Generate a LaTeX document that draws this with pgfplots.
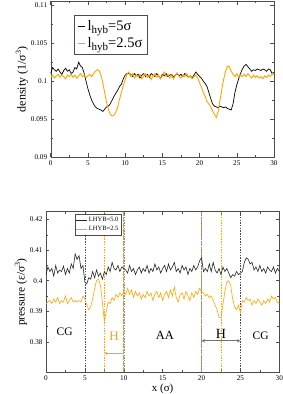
\documentclass[border=0pt]{standalone}
\usepackage{pgfplots}
\pgfplotsset{compat=1.18}
\usepackage{fontspec}
\setmainfont{Liberation Serif}
\usetikzlibrary{arrows.meta}
\definecolor{myorange}{RGB}{255,165,0}
\begin{document}
\begin{tikzpicture}
\path[use as bounding box] (0,0) rectangle (283pt,394pt);
\pgfplotsset{every axis/.append style={
  scale only axis, anchor=south west,
  /pgf/number format/assume math mode=true,
  tick label style={font=\fontsize{7.2}{8}\selectfont},
  xmin=0, xmax=30, xtick={0,5,...,30},
  minor x tick num=1, minor y tick num=1,
  tick align=inside, major tick length=3.5pt, minor tick length=2pt,
  tick style={black!70, line width=0.5pt},
  yticklabel style={/pgf/number format/.cd,fixed,precision=3},
  axis line style={black!70},
}}
\begin{axis}[at={(50.7pt,237pt)}, width=223.3pt, height=155.5pt,
  ymin=0.09, ymax=0.1105, ytick={0.09,0.095,0.1,0.105,0.11},
  yticklabels={0.09,0.095,0.1,0.105,0.11},
  ylabel={density (1/σ\textsuperscript{3})},
  ylabel style={font=\fontsize{12}{14}\selectfont, yshift=-4pt},
  legend style={at={(0.104,0.91)}, anchor=north west, font=\fontsize{14.5}{15}\selectfont,
    draw=black!70, inner sep=3pt, row sep=1pt},
  legend cell align=left,
  legend image post style={xscale=0.45},
]
\addplot[black, line width=0.7pt] coordinates {
(0,0.1010)(0.25,0.1018)(0.5,0.1015)(0.75,0.1013)(1,0.1016)(1.25,0.1012)(1.5,0.1009)(1.75,0.1014)(2,0.1017)(2.25,0.1013)(2.5,0.1015)(2.75,0.1010)(3,0.1012)(3.25,0.1018)(3.5,0.1016)(3.75,0.1025)(4,0.1020)(4.25,0.1018)(4.5,0.1010)(4.75,0.1000)(5,0.0990)(5.25,0.0982)(5.5,0.0975)(5.75,0.0970)(6,0.0966)(6.25,0.0964)(6.5,0.0963)(6.75,0.0962)(7,0.0960)(7.25,0.0963)(7.5,0.0966)(7.75,0.0967)(8,0.0970)(8.25,0.0975)(8.5,0.0980)(8.75,0.0984)(9,0.0988)(9.25,0.0993)(9.5,0.0996)(9.75,0.1003)(10,0.1008)(10.25,0.1010)(10.5,0.1010)(10.75,0.1009)(11,0.1006)(11.25,0.1010)(11.5,0.1007)(11.75,0.1009)(12,0.1004)(12.25,0.1008)(12.5,0.1010)(12.75,0.1006)(13,0.1009)(13.25,0.1005)(13.5,0.1010)(13.75,0.1008)(14,0.1006)(14.25,0.1010)(14.5,0.1007)(14.75,0.1004)(15,0.1009)(15.25,0.1007)(15.5,0.1010)(15.75,0.1006)(16,0.1008)(16.25,0.1009)(16.5,0.1005)(16.75,0.1008)(17,0.1010)(17.25,0.1007)(17.5,0.1009)(17.75,0.1006)(18,0.1010)(18.25,0.1008)(18.5,0.1005)(18.75,0.1007)(19,0.1004)(19.25,0.1008)(19.5,0.1012)(19.75,0.1009)(20,0.1006)(20.25,0.1004)(20.5,0.1000)(20.75,0.0997)(21,0.0993)(21.25,0.0985)(21.5,0.0977)(21.75,0.0970)(22,0.0967)(22.25,0.0966)(22.5,0.0965)(22.75,0.0967)(23,0.0966)(23.25,0.0965)(23.5,0.0966)(23.75,0.0964)(24,0.0963)(24.25,0.0962)(24.5,0.0970)(24.75,0.0985)(25,0.0995)(25.25,0.1003)(25.5,0.1010)(25.75,0.1016)(26,0.1020)(26.25,0.1022)(26.5,0.1019)(26.75,0.1016)(27,0.1013)(27.25,0.1015)(27.5,0.1014)(27.75,0.1016)(28,0.1015)(28.25,0.1014)(28.5,0.1016)(28.75,0.1015)(29,0.1013)(29.25,0.1016)(29.5,0.1015)(29.75,0.1010)(30,0.1012)};
\addlegendentry{l{\fontsize{11}{12}\selectfont\raisebox{-3pt}{hyb}}=5σ}
\addplot[myorange, line width=0.9pt] coordinates {
(0,0.1005)(0.25,0.1008)(0.5,0.1004)(0.75,0.1007)(1,0.1009)(1.25,0.1005)(1.5,0.1008)(1.75,0.1006)(2,0.1003)(2.25,0.1008)(2.5,0.1006)(2.75,0.1009)(3,0.1005)(3.25,0.1008)(3.5,0.1004)(3.75,0.1007)(4,0.1010)(4.25,0.1006)(4.5,0.1008)(4.75,0.1005)(5,0.1007)(5.25,0.1009)(5.5,0.1006)(5.75,0.1010)(6,0.1013)(6.25,0.1015)(6.5,0.1014)(6.75,0.1008)(7,0.0998)(7.25,0.0985)(7.5,0.0972)(7.75,0.0963)(8,0.0956)(8.25,0.0954)(8.5,0.0955)(8.75,0.0959)(9,0.0966)(9.25,0.0976)(9.5,0.0985)(9.75,0.0994)(10,0.1002)(10.25,0.1009)(10.5,0.1012)(10.75,0.1006)(11,0.1010)(11.25,0.1004)(11.5,0.1008)(11.75,0.1006)(12,0.1009)(12.25,0.1003)(12.5,0.1007)(12.75,0.1010)(13,0.1005)(13.25,0.1008)(13.5,0.1002)(13.75,0.1007)(14,0.1010)(14.25,0.1005)(14.5,0.1008)(14.75,0.1003)(15,0.1007)(15.25,0.1012)(15.5,0.1006)(15.75,0.1009)(16,0.1004)(16.25,0.1008)(16.5,0.1003)(16.75,0.1008)(17,0.1011)(17.25,0.1006)(17.5,0.1004)(17.75,0.1008)(18,0.1006)(18.25,0.1010)(18.5,0.1005)(18.75,0.1007)(19,0.1003)(19.25,0.1006)(19.5,0.1008)(19.75,0.1004)(20,0.0998)(20.25,0.0992)(20.5,0.0985)(20.75,0.0980)(21,0.0973)(21.25,0.0970)(21.5,0.0966)(21.75,0.0961)(22,0.0956)(22.25,0.0952)(22.5,0.0960)(22.75,0.0975)(23,0.0990)(23.25,0.1003)(23.5,0.1013)(23.75,0.1020)(24,0.1019)(24.25,0.1013)(24.5,0.1009)(24.75,0.1006)(25,0.1010)(25.25,0.1005)(25.5,0.1008)(25.75,0.1006)(26,0.1009)(26.25,0.1006)(26.5,0.1010)(26.75,0.1007)(27,0.1004)(27.25,0.1008)(27.5,0.1005)(27.75,0.1007)(28,0.1004)(28.25,0.1006)(28.5,0.1003)(28.75,0.1007)(29,0.1005)(29.25,0.1008)(29.5,0.1006)(29.75,0.1010)(30,0.1008)};
\addlegendentry{l{\fontsize{11}{12}\selectfont\raisebox{-3pt}{hyb}}=2.5σ}
\end{axis}

\begin{axis}[at={(46pt,21.7pt)}, width=233.3pt, height=160.6pt,
  ymin=0.37, ymax=0.4226, ytick={0.38,0.39,0.40,0.41,0.42},
  yticklabels={0.38,0.39,0.4,0.41,0.42},
  xlabel={x (σ)}, xlabel style={font=\fontsize{11}{12}\selectfont, yshift=4pt},
  ylabel={pressure (ε/σ\textsuperscript{3})},
  ylabel style={font=\fontsize{11.5}{13}\selectfont, yshift=-4pt},
  legend style={at={(0.124,0.985)}, anchor=north west, font=\fontsize{6.5}{7}\selectfont,
    draw=black!70, inner sep=1pt, row sep=-1pt},
  legend cell align=left,
  legend image post style={xscale=0.6},
]
% vertical region lines
\draw[black!70, line width=0.35pt, dash pattern=on 1.5pt off 1.2pt] (5,0.37) -- (5,0.4226);
\draw[black!70, line width=0.35pt, dash pattern=on 1.5pt off 1.2pt] (25,0.37) -- (25,0.4226);
\draw[myorange, line width=0.5pt, dash pattern=on 1.5pt off 1.2pt] (7.5,0.37) -- (7.5,0.4226);
\draw[myorange, line width=0.5pt, dash pattern=on 1.5pt off 1.2pt] (22.5,0.37) -- (22.5,0.4226);
\draw[myorange!80!black!80, line width=1.3pt, dash pattern=on 5pt off 1pt] (10,0.37) -- (10,0.4226);
\draw[black!45, line width=0.4pt, dash pattern=on 1.5pt off 1.2pt] (10,0.37) -- (10,0.4226);
\draw[myorange!80!black!80, line width=1.3pt, dash pattern=on 5pt off 1pt] (20,0.37) -- (20,0.4226);
\draw[black!45, line width=0.4pt, dash pattern=on 1.5pt off 1.2pt] (20,0.37) -- (20,0.4226);
\addplot[black!85, line width=0.6pt] coordinates {
(0,0.4020)(0.25,0.4045)(0.5,0.4030)(0.75,0.4040)(1,0.4015)(1.25,0.4050)(1.5,0.4025)(1.75,0.4035)(2,0.4030)(2.25,0.4048)(2.5,0.4020)(2.75,0.4040)(3,0.4025)(3.25,0.4055)(3.5,0.4040)(3.75,0.4088)(4,0.4070)(4.25,0.4082)(4.5,0.4040)(4.75,0.4050)(5,0.3995)(5.25,0.3990)(5.5,0.4010)(5.75,0.4005)(6,0.4030)(6.25,0.4010)(6.5,0.4035)(6.75,0.4015)(7,0.4025)(7.25,0.4005)(7.5,0.4030)(7.75,0.4020)(8,0.4045)(8.25,0.4030)(8.5,0.4060)(8.75,0.4040)(9,0.4035)(9.25,0.4050)(9.5,0.4030)(9.75,0.4045)(10,0.4040)(10.25,0.4035)(10.5,0.4025)(10.75,0.4050)(11,0.4030)(11.25,0.4040)(11.5,0.4020)(11.75,0.4035)(12,0.4045)(12.25,0.4025)(12.5,0.4040)(12.75,0.4030)(13,0.4050)(13.25,0.4025)(13.5,0.4040)(13.75,0.4030)(14,0.4055)(14.25,0.4035)(14.5,0.4045)(14.75,0.4025)(15,0.4040)(15.25,0.4050)(15.5,0.4030)(15.75,0.4055)(16,0.4035)(16.25,0.4045)(16.5,0.4060)(16.75,0.4030)(17,0.4040)(17.25,0.4025)(17.5,0.4050)(17.75,0.4035)(18,0.4045)(18.25,0.4020)(18.5,0.4040)(18.75,0.4030)(19,0.4050)(19.25,0.4035)(19.5,0.4045)(19.75,0.4065)(20,0.4075)(20.25,0.4030)(20.5,0.4040)(20.75,0.4030)(21,0.4055)(21.25,0.4030)(21.5,0.4060)(21.75,0.4035)(22,0.4025)(22.25,0.4040)(22.5,0.4020)(22.75,0.4045)(23,0.4030)(23.25,0.4040)(23.5,0.4025)(23.75,0.4010)(24,0.4020)(24.25,0.4015)(24.5,0.4030)(24.75,0.4020)(25,0.4025)(25.25,0.4030)(25.5,0.4060)(25.75,0.4075)(26,0.4070)(26.25,0.4055)(26.5,0.4060)(26.75,0.4035)(27,0.4045)(27.25,0.4030)(27.5,0.4050)(27.75,0.4030)(28,0.4040)(28.25,0.4025)(28.5,0.4045)(28.75,0.4035)(29,0.4030)(29.25,0.4045)(29.5,0.4025)(29.75,0.4040)(30,0.4030)};
\addlegendentry{LHYB=5.0}
\addplot[myorange, line width=0.6pt] coordinates {
(0,0.3925)(0.25,0.3930)(0.5,0.3935)(0.75,0.3925)(1,0.3940)(1.25,0.3930)(1.5,0.3945)(1.75,0.3925)(2,0.3935)(2.25,0.3930)(2.5,0.3950)(2.75,0.3925)(3,0.3935)(3.25,0.3945)(3.5,0.3930)(3.75,0.3935)(4,0.3930)(4.25,0.3935)(4.5,0.3930)(4.75,0.3950)(5,0.3940)(5.25,0.3920)(5.5,0.3905)(5.75,0.3915)(6,0.3940)(6.25,0.3975)(6.5,0.4000)(6.75,0.4005)(7,0.3985)(7.25,0.3930)(7.5,0.3868)(7.75,0.3900)(8,0.3930)(8.25,0.3925)(8.5,0.3945)(8.75,0.3935)(9,0.3955)(9.25,0.3945)(9.5,0.3960)(9.75,0.3950)(10,0.3965)(10.25,0.3955)(10.5,0.3975)(10.75,0.3955)(11,0.3970)(11.25,0.3945)(11.5,0.3965)(11.75,0.3950)(12,0.3960)(12.25,0.3940)(12.5,0.3955)(12.75,0.3945)(13,0.3965)(13.25,0.3950)(13.5,0.3960)(13.75,0.3935)(14,0.3955)(14.25,0.3965)(14.5,0.3945)(14.75,0.3960)(15,0.3935)(15.25,0.3955)(15.5,0.3965)(15.75,0.3945)(16,0.3970)(16.25,0.3950)(16.5,0.3980)(16.75,0.3945)(17,0.3930)(17.25,0.3955)(17.5,0.3960)(17.75,0.3940)(18,0.3965)(18.25,0.3950)(18.5,0.3935)(18.75,0.3960)(19,0.3945)(19.25,0.3965)(19.5,0.3955)(19.75,0.3975)(20,0.3965)(20.25,0.3960)(20.5,0.3950)(20.75,0.3955)(21,0.3945)(21.25,0.3950)(21.5,0.3935)(21.75,0.3920)(22,0.3905)(22.25,0.3880)(22.5,0.3878)(22.75,0.3920)(23,0.3965)(23.25,0.3995)(23.5,0.4000)(23.75,0.3985)(24,0.3940)(24.25,0.3915)(24.5,0.3905)(24.75,0.3920)(25,0.3895)(25.25,0.3935)(25.5,0.3930)(25.75,0.3945)(26,0.3935)(26.25,0.3940)(26.5,0.3920)(26.75,0.3935)(27,0.3925)(27.25,0.3940)(27.5,0.3930)(27.75,0.3920)(28,0.3935)(28.25,0.3925)(28.5,0.3940)(28.75,0.3930)(29,0.3950)(29.25,0.3940)(29.5,0.3945)(29.75,0.3930)(30,0.3925)};
\addlegendentry{LHYB=2.5}
\node[font=\fontsize{11.5}{12}\selectfont] at (2.4,0.3833) {CG};
\node[font=\fontsize{13}{14}\selectfont, text=myorange] at (8.75,0.3817) {H};
\node[font=\fontsize{12.5}{14}\selectfont] at (15.3,0.3820) {AA};
\node[font=\fontsize{14}{15}\selectfont] at (22.5,0.3826) {H};
\node[font=\fontsize{11.5}{12}\selectfont] at (27.6,0.3820) {CG};
\draw[myorange, line width=0.6pt, -{Stealth[length=3pt,width=3pt]}] (10,0.3762) -- (7.5,0.3762);
\draw[black!55, line width=0.8pt, {Stealth[length=3.5pt,width=3.5pt]}-{Stealth[length=3.5pt,width=3.5pt]}] (20,0.3803) -- (25,0.3803);
\end{axis}
\end{tikzpicture}
\end{document}
